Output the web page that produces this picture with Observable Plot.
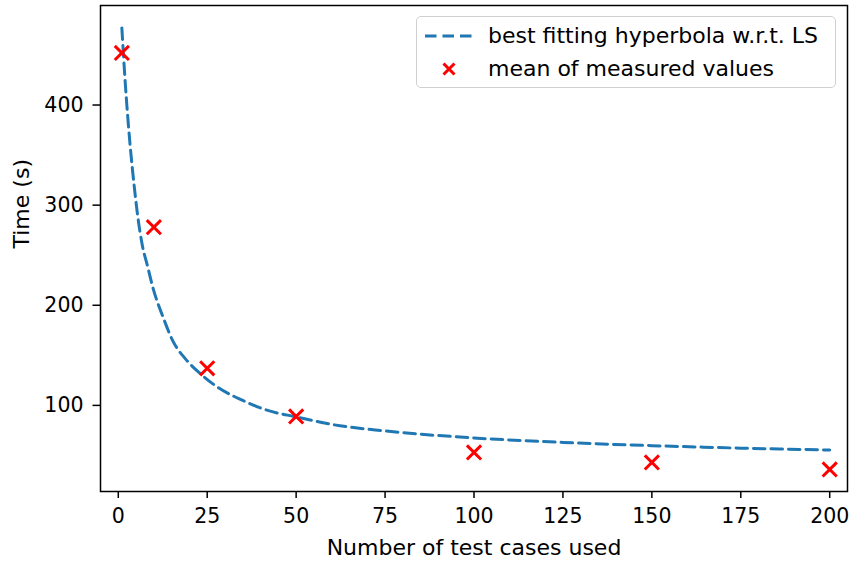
<!DOCTYPE html>
<html><head><meta charset="utf-8">
<script src="https://cdn.jsdelivr.net/npm/d3@7"></script>
<script src="https://cdn.jsdelivr.net/npm/@observablehq/plot@0.6"></script>
<style>
body{margin:0;background:#fff;}
#wrap{position:relative;width:853px;height:563px;font-family:"DejaVu Sans",sans-serif;}
#legend{position:absolute;left:416px;top:16px;width:420px;height:72px;border:1.5px solid #d0d0d0;border-radius:5px;background:rgba(255,255,255,0.8);box-sizing:border-box;font-size:22px;color:#000;}
#legend .row{position:absolute;left:0;height:30px;width:100%;}
#legend .row span{position:absolute;left:71px;top:2px;line-height:26px;white-space:nowrap;}
#legend svg{position:absolute;left:7px;top:0;}
</style></head>
<body><div id="wrap"><div id="legend"></div></div>
<script>
// measured means
const testCases = [1, 10, 25, 50, 100, 150, 200];
const meanTimes = [452, 278, 137, 89, 53, 43, 36];
// best fitting hyperbola
const fitX = [1, 2, 3.2, 4.6, 5.5, 6.7, 8.3, 9.7, 12.6, 15.4, 19, 23.3, 28, 35, 42, 50, 60, 75, 100, 125, 150, 175, 200];
const fitY = [477, 420, 365, 315, 288, 261, 238, 218, 188, 164, 146, 131, 118, 105, 95, 88.5, 81, 74.5, 67.5, 63, 59.8, 57.3, 55.4];
const xTicks = [0, 25, 50, 75, 100, 125, 150, 175, 200];
const yTicks = [100, 200, 300, 400];
const xLabel = "Number of test cases used";
const yLabel = "Time (s)";
const seriesNames = ["best fitting hyperbola w.r.t. LS", "mean of measured values"];

const points = testCases.map((x, i) => ({x, y: meanTimes[i]}));
const fit = fitX.map((x, i) => ({x, y: fitY[i]}));

const chart = Plot.plot({
  width: 853, height: 563,
  marginLeft: 100, marginRight: 6, marginTop: 5, marginBottom: 72,
  style: {fontFamily: "DejaVu Sans, sans-serif", fontSize: "20.5px", color: "black", background: "white"},
  x: {domain: [-5, 205]},
  y: {domain: [14, 499.4]},
  marks: [
    Plot.line(fit, {x: "x", y: "y", stroke: "#1f77b4", strokeWidth: 3, strokeDasharray: "11.5,6", curve: "monotone-x"}),
    Plot.dot(points, {x: "x", y: "y", symbol: "times", r: 6.5, stroke: "red", strokeWidth: 3}),
    Plot.frame({stroke: "black", strokeWidth: 1.5}),
    Plot.axisX({ticks: xTicks, tickSize: 7, tickPadding: 10, label: null, strokeWidth: 1.5, fontSize: 20.5}),
    Plot.axisY({ticks: yTicks, tickSize: 7.5, tickPadding: 9.5, label: null, strokeWidth: 1.5, fontSize: 20.5}),
    Plot.text([xLabel], {text: d => d, frameAnchor: "bottom", dy: 56, lineAnchor: "middle", fontSize: 22}),
    Plot.text([yLabel], {text: d => d, frameAnchor: "left", dx: -79, rotate: -90, lineAnchor: "middle", fontSize: 22})
  ]
});
document.getElementById("wrap").prepend(chart);

const legend = document.getElementById("legend");
legend.innerHTML = `
  <div class="row" style="top:4px">
    <svg width="50" height="30"><line x1="1" y1="15" x2="48" y2="15" stroke="#1f77b4" stroke-width="3" stroke-dasharray="11.5,6"/></svg>
    <span>${seriesNames[0]}</span>
  </div>
  <div class="row" style="top:37px">
    <svg width="50" height="30"><path d="M19.5,9.5L30.5,20.5M30.5,9.5L19.5,20.5" stroke="red" stroke-width="3"/></svg>
    <span>${seriesNames[1]}</span>
  </div>`;
</script>
</body></html>
